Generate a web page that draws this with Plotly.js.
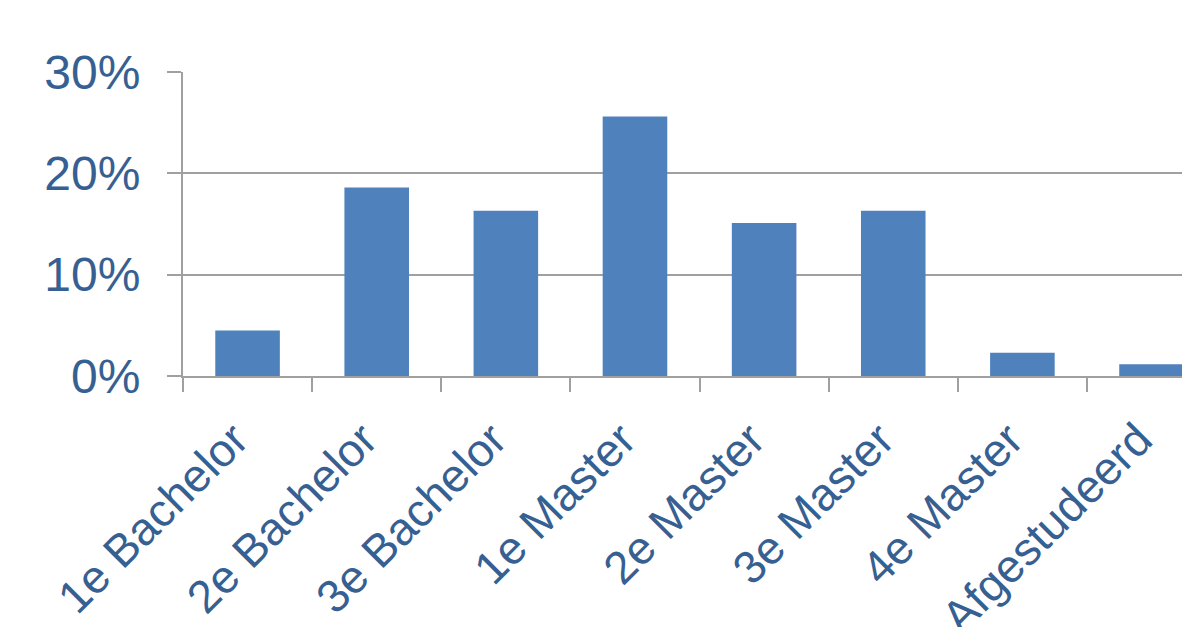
<!DOCTYPE html>
<html>
<head>
<meta charset="utf-8">
<script src="https://cdn.plot.ly/plotly-3.0.1.min.js"></script>
<style>
html,body{margin:0;padding:0;background:#fff;overflow:hidden;}
#chart{width:1182px;height:627px;}
</style>
</head>
<body>
<div id="chart"></div>
<script>
const categories = ["1e Bachelor","2e Bachelor","3e Bachelor","1e Master","2e Master","3e Master","4e Master","Afgestudeerd"];
const shares = [0.045, 0.186, 0.163, 0.256, 0.151, 0.163, 0.023, 0.0115];
const yTickVals = [0, 0.1, 0.2, 0.3];
const yTickText = ["0%","10%","20%","30%"];

const textColor = "#376092";
const lineColor = "#a0a0a0";

const trace = {
  type: "bar",
  x: categories,
  y: shares,
  width: 0.5,
  marker: {color: "#4f81bd", line: {width: 0}},
  hoverinfo: "x+y"
};

const layout = {
  width: 1182,
  height: 627,
  margin: {l: 183, r: 0, t: 72, b: 251, pad: 0},
  paper_bgcolor: "#ffffff",
  plot_bgcolor: "#ffffff",
  showlegend: false,
  bargap: 0.5,
  font: {family: "Liberation Sans, Arial, sans-serif", color: textColor},
  xaxis: {
    type: "category",
    range: [-0.5, 7.236],
    tickson: "boundaries",
    ticks: "outside",
    ticklen: 14,
    tickwidth: 2,
    tickcolor: lineColor,
    showline: true,
    linecolor: lineColor,
    linewidth: 2,
    showgrid: false,
    tickangle: -45,
    ticklabelstandoff: 16,
    ticklabelshift: -13,
    tickfont: {size: 46, color: textColor, family: "Liberation Sans, Arial, sans-serif"},
    fixedrange: true
  },
  yaxis: {
    range: [0, 0.30],
    tickvals: yTickVals,
    ticktext: yTickText,
    ticks: "outside",
    ticklen: 14,
    tickwidth: 2,
    tickcolor: lineColor,
    showline: true,
    linecolor: lineColor,
    linewidth: 2,
    showgrid: true,
    gridcolor: lineColor,
    gridwidth: 2,
    zeroline: false,
    ticklabelstandoff: 17,
    tickfont: {size: 48, color: textColor, family: "Liberation Sans, Arial, sans-serif"},
    fixedrange: true
  }
};

Plotly.newPlot("chart", [trace], layout, {displayModeBar: false, staticPlot: true});
</script>
</body>
</html>
